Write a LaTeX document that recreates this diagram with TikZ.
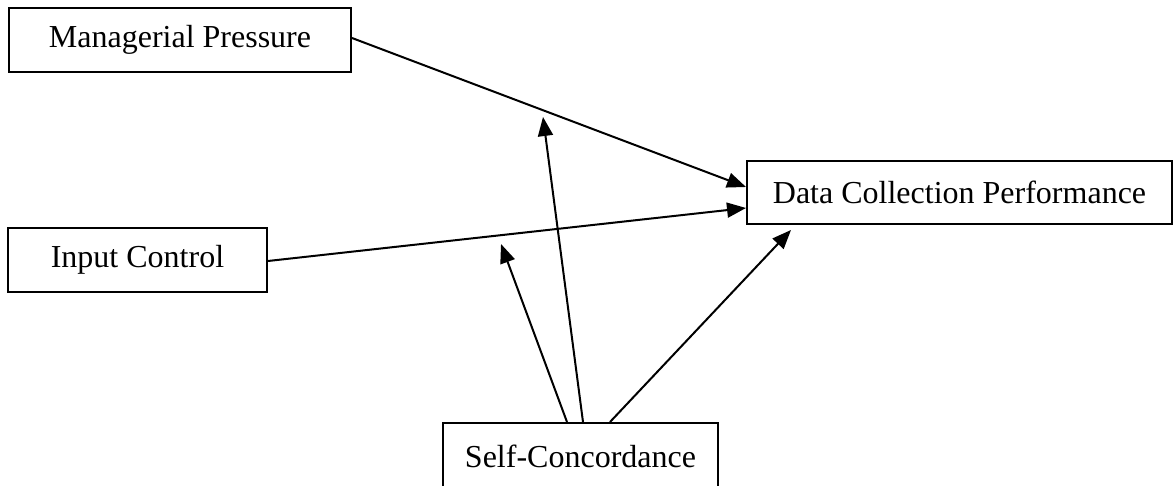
\documentclass[tikz,border=0pt]{standalone}
\usepackage{fontspec}
\setmainfont{Liberation Serif}
\usetikzlibrary{arrows.meta}
\begin{document}
\begin{tikzpicture}[x=1pt,y=-1pt,
  box/.style={draw=black,line width=2pt,inner sep=0pt,align=center,
    font=\fontsize{32}{38}\selectfont},
  link/.style={line width=2pt,-{Triangle[length=19pt,width=15pt]}}]
\useasboundingbox[fill=white] (0,0) rectangle (1174,486);
\node[box,minimum width=342pt,minimum height=64pt] (mp) at (180,40) {Managerial Pressure};
\node[box,minimum width=259pt,minimum height=64pt] (ic) at (137.5,260) {Input Control};
\node[box,minimum width=425pt,minimum height=63pt] (dcp) at (959.5,192.5) {Data Collection Performance};
\node[box,minimum width=275pt,minimum height=66pt,text depth=0pt] (sc) at (580.5,456) {Self-Concordance};
\coordinate (m1) at (543,117);
\coordinate (m2) at (501,244);
\draw[link] ([yshift=2pt]mp.east) -- ([yshift=5.5pt]dcp.west);
\draw[link] ([yshift=-1pt]ic.east) -- ([yshift=-15.5pt]dcp.west);
\draw[link] ([xshift=2.5pt]sc.north) -- (m1);
\draw[link] ([xshift=-13.5pt]sc.north) -- (m2);
\draw[link] ([xshift=29.5pt]sc.north) -- ([xshift=45pt,yshift=-5pt]dcp.south west);
\end{tikzpicture}
\end{document}
